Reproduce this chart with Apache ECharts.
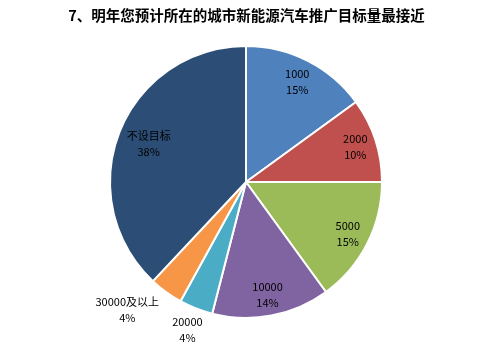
<!DOCTYPE html>
<html>
<head>
<meta charset="utf-8">
<script src="https://cdn.jsdelivr.net/npm/echarts@6/dist/echarts.min.js"></script>
<style>
    html, body { margin: 0; padding: 0; background: #fff; }
    #chart { width: 493px; height: 353px; }
</style>
</head>
<body>
<div id="chart"></div>
<script>
    // 数据
    let categories = ['1000', '2000', '5000', '10000', '20000', '30000及以上', '不设目标']
    let percents = [15, 10, 15, 14, 4, 4, 38]
    let colors = ['#4F81BD', '#C0504D', '#9BBB59', '#8064A2', '#4BACC6', '#F79646', '#2C4D75']

    let center = [246, 182]
    let radius = 136
    // 标签到圆心的距离 (相对半径) 和角度微调 (度)
    let labelDist = [0.83, 0.845, 0.84, 0.845, 1.17, 1.28, 0.77]
    let labelTurn = [0, 0, 0, 0, 0, 7, 0]

    let myChart = echarts.init(document.getElementById('chart'))

    let total = percents.reduce((a, b) => a + b, 0)
    let _data = []
    let _mid = []
    let acc = 0
    categories.forEach((name, i) => {
        _mid.push((acc + percents[i] / 2) / total * 360)
        acc += percents[i]
        _data.push({
            name: name,
            value: percents[i],
            itemStyle: { color: colors[i] }
        })
    })

    let option = {
        animation: false,
        title: {
            text: '7、明年您预计所在的城市新能源汽车推广目标量最接近',
            left: 'center',
            top: 3,
            textStyle: {
                color: '#000',
                fontSize: 14.5,
                fontWeight: 'bold',
                fontFamily: '"Noto Sans CJK SC", sans-serif'
            }
        },
        series: [{
            type: 'pie',
            center: center,
            radius: radius,
            startAngle: 90,
            clockwise: true,
            avoidLabelOverlap: false,
            itemStyle: {
                borderColor: '#fff',
                borderWidth: 2
            },
            label: {
                show: true,
                position: 'inside',
                formatter: p => p.name + '\n' + p.value + '%',
                color: '#000',
                fontSize: 11,
                lineHeight: 16,
                fontFamily: '"Noto Sans CJK SC", sans-serif'
            },
            labelLine: { show: false },
            labelLayout: function (params) {
                let i = params.dataIndex
                let r = params.labelRect
                let lx = r.x + r.width / 2
                let ly = r.y + r.height / 2
                let a = (_mid[i] + labelTurn[i]) * Math.PI / 180
                let d = labelDist[i] * radius
                let tx = center[0] + d * Math.sin(a)
                let ty = center[1] - d * Math.cos(a)
                return {
                    dx: tx - lx,
                    dy: ty - ly
                }
            },
            data: _data
        }]
    }
    myChart.setOption(option)
</script>
</body>
</html>
